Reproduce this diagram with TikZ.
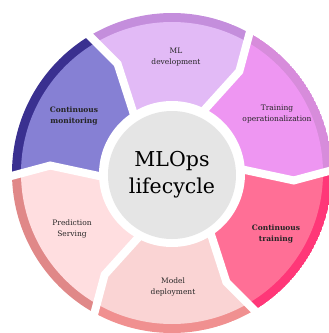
\documentclass[tikz,border=0pt]{standalone}
\usepackage{fontspec}
\setmainfont{DejaVu Serif}
\usepackage{tikz}

\definecolor{devfill}{RGB}{226,186,246}
\definecolor{devband}{RGB}{196,142,220}
\definecolor{opsfill}{RGB}{238,150,242}
\definecolor{opsband}{RGB}{215,140,219}
\definecolor{trainfill}{RGB}{255,111,150}
\definecolor{trainband}{RGB}{255,55,120}
\definecolor{deployfill}{RGB}{250,212,212}
\definecolor{deployband}{RGB}{240,144,144}
\definecolor{servefill}{RGB}{255,222,224}
\definecolor{serveband}{RGB}{224,136,136}
\definecolor{monfill}{RGB}{134,128,212}
\definecolor{monband}{RGB}{58,48,144}
\definecolor{hubgray}{RGB}{229,229,229}

\newcommand{\Rout}{160}
\newcommand{\Rband}{151}
\newcommand{\Rmid}{122}
\newcommand{\Rin}{70}

% one arrow segment of the ring, #1 = angle of its front edge
\newcommand{\lifeseg}[3]{%
	\begin{scope}
		\clip (#1+60:\Rout) arc[start angle=#1+60,end angle=#1,radius=\Rout]
			-- (#1-4.5:\Rmid) -- (#1+2:\Rin)
			arc[start angle=#1+2,end angle=#1+62,radius=\Rin]
			-- (#1+55.5:\Rmid) -- cycle;
		\fill[#3] (0,0) circle (\Rout);
		\fill[#2] (0,0) circle (\Rband);
	\end{scope}}

\tikzset{
	gapline/.style={white,line width=8pt,line cap=rect,line join=miter},
	hub/.style={circle,fill=hubgray,minimum size=128pt,inner sep=0pt,align=center,
		font=\fontsize{20.5}{27}\selectfont},
	seglabel/.style={align=center,text=black!85,font=\fontsize{7.5}{10.5}\selectfont},
	boldlabel/.style={seglabel,font=\fontsize{7.5}{10.5}\selectfont\bfseries}
}

\begin{document}
\begin{tikzpicture}[x=1pt,y=1pt]
	\useasboundingbox (-172,-160) rectangle (157,173);

	\lifeseg{61  }{devfill   }{devband   }
	\lifeseg{1   }{opsfill   }{opsband   }
	\lifeseg{-59 }{trainfill }{trainband }
	\lifeseg{-119}{deployfill}{deployband}
	\lifeseg{181 }{servefill }{serveband }
	\lifeseg{121 }{monfill   }{monband   }

	\foreach \b in {1,61,...,301}
		\draw[gapline] (\b:\Rout) -- (\b-4.5:\Rmid) -- (\b+2:\Rin);

	\fill[white] (0,-1) circle (73);
	\node[hub] (hub) at (0,-2) {MLOps\\lifecycle};

	\node[seglabel ] (devlabel)    at (4,116)    {ML\\development};
	\node[seglabel ] (opslabel)    at (105,59)   {Training\\operationalization};
	\node[boldlabel] (trainlabel)  at (104,-61)  {Continuous\\training};
	\node[seglabel ] (deploylabel) at (1,-114)   {Model\\deployment};
	\node[seglabel ] (servelabel)  at (-100,-56) {Prediction\\Serving};
	\node[boldlabel] (monlabel)    at (-98,57)   {Continuous\\monitoring};
\end{tikzpicture}
\end{document}
